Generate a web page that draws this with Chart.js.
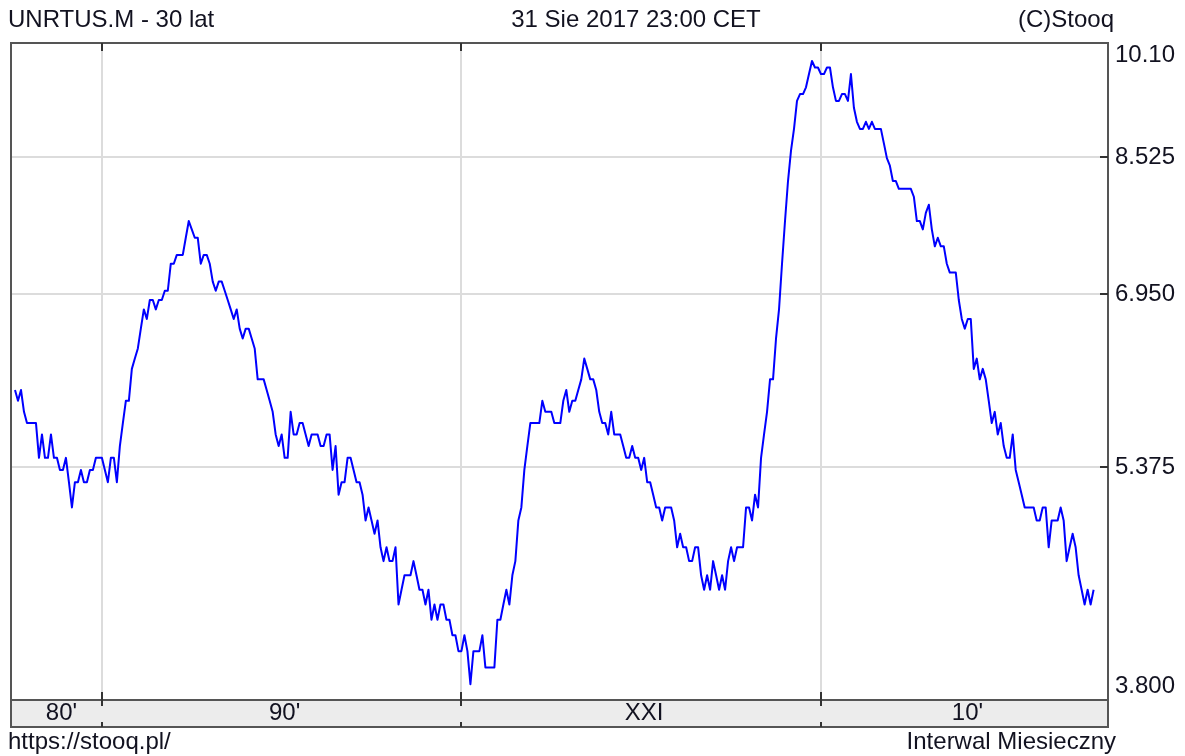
<!DOCTYPE html>
<html><head><meta charset="utf-8">
<script src="https://cdn.jsdelivr.net/npm/chart.js@4/dist/chart.umd.min.js"></script>
<style>html,body{margin:0;padding:0;background:#fff;}canvas{display:block;}</style>
</head><body>
<canvas id="c" width="1185" height="756"></canvas>
<script>
// ---- data (monthly, seasonally adjusted US unemployment rate, Aug 1987 .. Aug 2017) ----
const startYear = 1987;
const startMonth = 8;
const unemploymentRate = [
  6.0, 5.9, 6.0, 5.8, 5.7,
  5.7, 5.7, 5.7, 5.4, 5.6, 5.4, 5.4, 5.6, 5.4, 5.4, 5.3, 5.3,
  5.4, 5.2, 5.0, 5.2, 5.2, 5.3, 5.2, 5.2, 5.3, 5.3, 5.4, 5.4,
  5.4, 5.3, 5.2, 5.4, 5.4, 5.2, 5.5, 5.7, 5.9, 5.9, 6.2, 6.3,
  6.4, 6.6, 6.8, 6.7, 6.9, 6.9, 6.8, 6.9, 6.9, 7.0, 7.0, 7.3,
  7.3, 7.4, 7.4, 7.4, 7.6, 7.8, 7.7, 7.6, 7.6, 7.3, 7.4, 7.4,
  7.3, 7.1, 7.0, 7.1, 7.1, 7.0, 6.9, 6.8, 6.7, 6.8, 6.6, 6.5,
  6.6, 6.6, 6.5, 6.4, 6.1, 6.1, 6.1, 6.0, 5.9, 5.8, 5.6, 5.5,
  5.6, 5.4, 5.4, 5.8, 5.6, 5.6, 5.7, 5.7, 5.6, 5.5, 5.6, 5.6,
  5.6, 5.5, 5.5, 5.6, 5.6, 5.3, 5.5, 5.1, 5.2, 5.2, 5.4, 5.4,
  5.3, 5.2, 5.2, 5.1, 4.9, 5.0, 4.9, 4.8, 4.9, 4.7, 4.6, 4.7,
  4.6, 4.6, 4.7, 4.3, 4.4, 4.5, 4.5, 4.5, 4.6, 4.5, 4.4, 4.4,
  4.3, 4.4, 4.2, 4.3, 4.2, 4.3, 4.3, 4.2, 4.2, 4.1, 4.1, 4.0,
  4.0, 4.1, 4.0, 3.8, 4.0, 4.0, 4.0, 4.1, 3.9, 3.9, 3.9, 3.9,
  4.2, 4.2, 4.3, 4.4, 4.3, 4.5, 4.6, 4.9, 5.0, 5.3, 5.5, 5.7,
  5.7, 5.7, 5.7, 5.9, 5.8, 5.8, 5.8, 5.7, 5.7, 5.7, 5.9, 6.0,
  5.8, 5.9, 5.9, 6.0, 6.1, 6.3, 6.2, 6.1, 6.1, 6.0, 5.8, 5.7,
  5.7, 5.6, 5.8, 5.6, 5.6, 5.6, 5.5, 5.4, 5.4, 5.5, 5.4, 5.4,
  5.3, 5.4, 5.2, 5.2, 5.1, 5.0, 5.0, 4.9, 5.0, 5.0, 5.0, 4.9,
  4.7, 4.8, 4.7, 4.7, 4.6, 4.6, 4.7, 4.7, 4.5, 4.4, 4.5, 4.4,
  4.6, 4.5, 4.4, 4.5, 4.4, 4.6, 4.7, 4.6, 4.7, 4.7, 4.7, 5.0,
  5.0, 4.9, 5.1, 5.0, 5.4, 5.6, 5.8, 6.1, 6.1, 6.5, 6.8, 7.3,
  7.8, 8.3, 8.7, 9.0, 9.4, 9.5, 9.5, 9.6, 9.8, 10.0, 9.9, 9.9,
  9.8, 9.8, 9.9, 9.9, 9.6, 9.4, 9.4, 9.5, 9.5, 9.4, 9.8, 9.3,
  9.1, 9.0, 9.0, 9.1, 9.0, 9.1, 9.0, 9.0, 9.0, 8.8, 8.6, 8.5,
  8.3, 8.3, 8.2, 8.2, 8.2, 8.2, 8.2, 8.1, 7.8, 7.8, 7.7, 7.9,
  8.0, 7.7, 7.5, 7.6, 7.5, 7.5, 7.3, 7.2, 7.2, 7.2, 6.9, 6.7,
  6.6, 6.7, 6.7, 6.2, 6.3, 6.1, 6.2, 6.1, 5.9, 5.7, 5.8, 5.6,
  5.7, 5.5, 5.4, 5.4, 5.6, 5.3, 5.2, 5.1, 5.0, 5.0, 5.0, 5.0,
  4.9, 4.9, 5.0, 5.0, 4.7, 4.9, 4.9, 4.9, 5.0, 4.9, 4.6, 4.7,
  4.8, 4.7, 4.5, 4.4, 4.3, 4.4, 4.3, 4.4
];
const yTickValues = [3.8, 5.375, 6.95, 8.525, 10.1];
const yTickLabels = ["3.800", "5.375", "6.950", "8.525", "10.10"];
const decadeYears = [1990, 2000, 2010];
const decadeLabels = ["80'", "90'", "XXI", "10'"];
const headerLeft = "UNRTUS.M - 30 lat";
const headerCenter = "31 Sie 2017 23:00 CET";
const headerRight = "(C)Stooq";
const footerLeft = "https://stooq.pl/";
const footerRight = "Interwal Miesieczny";

// ---- derived ----
const points = unemploymentRate.map((v, i) => ({ x: i, y: v }));
const decadeIndex = decadeYears.map(y => (y - startYear) * 12 + (1 - startMonth));

const FONT = '24px "Liberation Sans", Arial, sans-serif';
const TEXT = '#121220';
const BORDER = '#555555';

function seg(ctx, x1, y1, x2, y2) { ctx.beginPath(); ctx.moveTo(x1, y1); ctx.lineTo(x2, y2); ctx.stroke(); }

const framePlugin = {
  id: 'stooqFrame',
  beforeDraw(chart) {
    const { ctx, chartArea: a } = chart;
    const xs = chart.scales.x, ys = chart.scales.y;
    ctx.save();
    ctx.fillStyle = '#ffffff';
    ctx.fillRect(0, 0, chart.width, chart.height);
    ctx.strokeStyle = '#dcdcdc';
    ctx.lineWidth = 2;
    yTickValues.forEach(v => {
      const py = Math.round(ys.getPixelForValue(v));
      if (py > a.top + 3 && py < a.bottom - 3) seg(ctx, a.left, py, a.right, py);
    });
    decadeIndex.forEach(i => {
      const px = Math.round(xs.getPixelForValue(i));
      seg(ctx, px, a.top, px, a.bottom);
    });
    ctx.restore();
  },
  afterDatasetsDraw(chart) {
    const { ctx, chartArea: a } = chart;
    const xs = chart.scales.x, ys = chart.scales.y;
    const bandH = 27;
    ctx.save();
    ctx.fillStyle = '#ececec';
    ctx.fillRect(a.left, a.bottom, a.right - a.left, bandH);
    ctx.strokeStyle = BORDER;
    ctx.lineWidth = 2;
    ctx.strokeRect(a.left, a.top, a.right - a.left, a.bottom - a.top);
    ctx.strokeRect(a.left, a.bottom, a.right - a.left, bandH);
    ctx.strokeStyle = '#333';
    ctx.lineWidth = 2;
    decadeIndex.forEach(i => {
      const px = Math.round(xs.getPixelForValue(i));
      seg(ctx, px, a.top, px, a.top + 8);
      seg(ctx, px, a.bottom - 8, px, a.bottom + 6);
      seg(ctx, px, a.bottom + bandH - 5, px, a.bottom + bandH);
    });
    yTickValues.forEach(v => {
      const py = Math.round(ys.getPixelForValue(v));
      if (py > a.top + 3 && py < a.bottom - 3) seg(ctx, a.right - 8, py, a.right, py);
    });
    ctx.fillStyle = TEXT;
    ctx.font = FONT;
    ctx.textBaseline = 'middle';
    ctx.textAlign = 'left';
    yTickValues.forEach((v, k) => {
      let py = ys.getPixelForValue(v);
      py = Math.min(Math.max(py, a.top + 12), a.bottom - 14);
      ctx.fillText(yTickLabels[k], a.right + 7, py);
    });
    ctx.textAlign = 'center';
    const bounds = [xs.getPixelForValue(0)].concat(decadeIndex.map(i => xs.getPixelForValue(i)), [a.right]);
    decadeLabels.forEach((t, k) => {
      ctx.fillText(t, (bounds[k] + bounds[k + 1]) / 2 + 3, a.bottom + 13);
    });
    ctx.textAlign = 'left';
    ctx.fillText(headerLeft, 8, 20);
    ctx.textAlign = 'center';
    ctx.fillText(headerCenter, 636, 20);
    ctx.textAlign = 'right';
    ctx.fillText(headerRight, 1114, 20);
    ctx.textAlign = 'left';
    ctx.fillText(footerLeft, 8, 742);
    ctx.textAlign = 'right';
    ctx.fillText(footerRight, 1116, 742);
    ctx.restore();
  }
};

new Chart(document.getElementById('c'), {
  type: 'line',
  data: {
    datasets: [{
      data: points,
      yAxisID: 'yData',
      borderColor: '#0000ff',
      borderWidth: 2,
      borderJoinStyle: 'round',
      pointRadius: 0,
      tension: 0,
      fill: false
    }]
  },
  options: {
    responsive: false,
    animation: false,
    devicePixelRatio: 1,
    layout: { padding: { left: 11, top: 43, right: 77, bottom: 56 } },
    plugins: { legend: { display: false }, tooltip: { enabled: false }, title: { display: false } },
    scales: {
      x: { type: 'linear', display: false, bounds: 'data', min: -1.335, max: 364.8 },
      y: { type: 'logarithmic', display: false, bounds: 'data', min: yTickValues[0], max: yTickValues[yTickValues.length - 1], position: 'right' },
      yData: { type: 'logarithmic', display: false, bounds: 'data', min: 3.7077, max: 10.284, position: 'right' }
    }
  },
  plugins: [framePlugin]
});
</script>
</body></html>
